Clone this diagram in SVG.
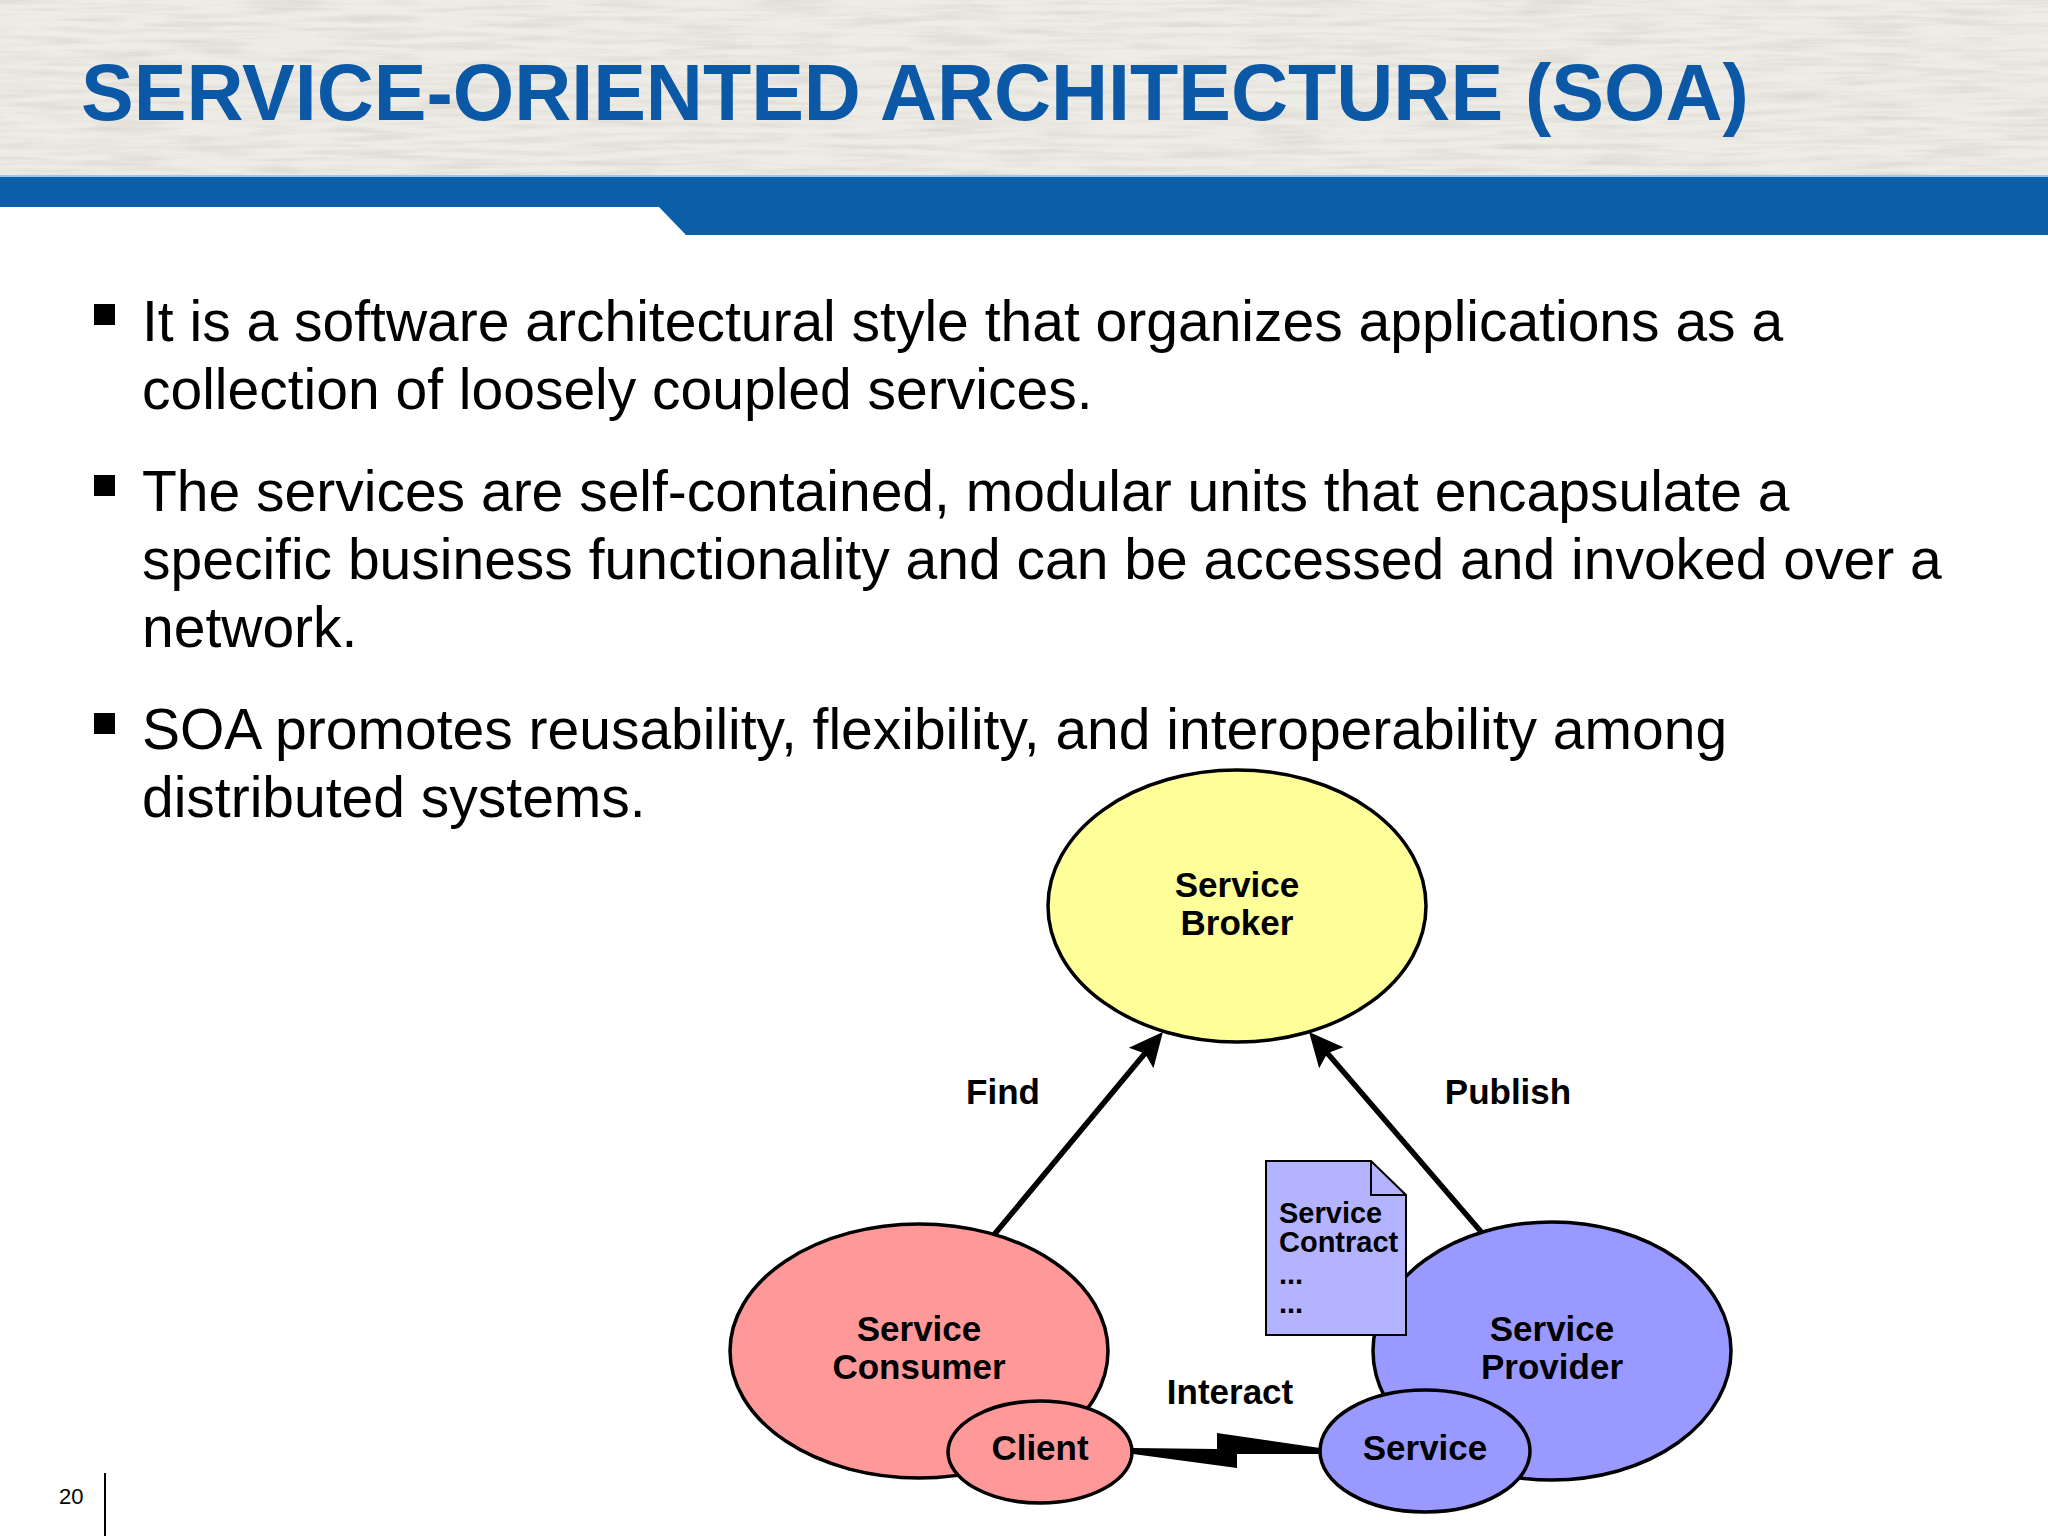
<svg xmlns="http://www.w3.org/2000/svg" width="2048" height="1536" viewBox="0 0 2048 1536">
<defs>
<style>
.title{font-family:"Liberation Sans",Arial,sans-serif;font-weight:bold;font-size:79px;fill:#0b59a6}
.body{font-family:"Liberation Sans",Arial,sans-serif;font-size:57px;fill:#000}
.lbl{font-family:"Liberation Sans",Arial,sans-serif;font-weight:bold;font-size:35px;fill:#000;text-anchor:middle}
.doc{font-family:"Liberation Sans",Arial,sans-serif;font-weight:bold;font-size:29px;fill:#000}
.node{stroke:#000;stroke-width:3.5}
.conn{stroke:#000;stroke-width:5.5;fill:none}
.pg{font-family:"Liberation Sans",Arial,sans-serif;font-size:22px;fill:#000}
</style>
<marker id="arr" markerUnits="userSpaceOnUse" markerWidth="50" markerHeight="44" viewBox="-32 -22 50 44" refX="0" refY="0" orient="auto">
<path d="M10,0 L-24,-16 L-18,0 L-24,16 z" fill="#000"/>
</marker>
<filter id="paper" x="0" y="0" width="100%" height="100%">
<feTurbulence type="fractalNoise" baseFrequency="0.012 0.18" numOctaves="3" seed="4" result="n"/>
<feColorMatrix in="n" type="matrix" values="0 0 0 0 0.55 0 0 0 0 0.53 0 0 0 0 0.47 1.4 0 0 0 -0.55"/>
<feComposite in2="SourceGraphic" operator="in"/>
</filter>
</defs>
<rect width="2048" height="1536" fill="#fff"/>
<g id="header">
<rect x="0" y="0" width="2048" height="177" fill="#eeece6"/>
<rect x="0" y="0" width="2048" height="177" fill="#000" filter="url(#paper)" opacity="0.6"/>
<polygon points="0,176 2048,176 2048,235 686,235 659,207 0,207" fill="#0b5fa8"/>
<line x1="0" y1="176" x2="2048" y2="176" stroke="#9cc6ea" stroke-width="2"/>
<text class="title" x="81" y="120">SERVICE-ORIENTED ARCHITECTURE (SOA)</text>
</g>
<g id="bullets">
<rect x="94" y="304" width="21" height="21" fill="#000"/>
<text class="body" x="142" y="341">It is a software architectural style that organizes applications as a</text>
<text class="body" x="142" y="409">collection of loosely coupled services.</text>
<rect x="94" y="475" width="21" height="21" fill="#000"/>
<text class="body" x="142" y="511">The services are self-contained, modular units that encapsulate a</text>
<text class="body" x="142" y="579">specific business functionality and can be accessed and invoked over a</text>
<text class="body" x="142" y="647">network.</text>
<rect x="94" y="713" width="21" height="21" fill="#000"/>
<text class="body" x="142" y="749">SOA promotes reusability, flexibility, and interoperability among</text>
<text class="body" x="142" y="817">distributed systems.</text>
</g>
<g id="connectors">
<line class="conn" x1="993" y1="1236" x2="1156.5" y2="1039.6" marker-end="url(#arr)"/>
<line class="conn" x1="1483" y1="1234" x2="1315.6" y2="1039.5" marker-end="url(#arr)"/>
<text class="lbl" x="1003" y="1104">Find</text>
<text class="lbl" x="1508" y="1104">Publish</text>
<polygon id="interact-bolt" points="1133,1448 1217,1449 1217,1433 1320,1448 1320,1454 1237,1454 1237,1468 1133,1454" fill="#000"/>
<text class="lbl" x="1230" y="1404">Interact</text>
</g>
<g id="broker">
<ellipse class="node" cx="1237" cy="906" rx="189" ry="136" fill="#ffff99"/>
<text class="lbl" x="1237" y="897">Service</text>
<text class="lbl" x="1237" y="935">Broker</text>
</g>
<g id="consumer">
<ellipse class="node" cx="919" cy="1351" rx="189" ry="127" fill="#ff9999"/>
<text class="lbl" x="919" y="1341">Service</text>
<text class="lbl" x="919" y="1379">Consumer</text>
</g>
<g id="client">
<ellipse class="node" cx="1040" cy="1452" rx="92" ry="51" fill="#ff9999"/>
<text class="lbl" x="1040" y="1460">Client</text>
</g>
<g id="provider">
<ellipse class="node" cx="1552" cy="1351" rx="179" ry="129" fill="#9999ff"/>
<text class="lbl" x="1552" y="1341">Service</text>
<text class="lbl" x="1552" y="1379">Provider</text>
</g>
<g id="service">
<ellipse class="node" cx="1425" cy="1451" rx="105" ry="61" fill="#9999ff"/>
<text class="lbl" x="1425" y="1460">Service</text>
</g>
<g id="contract">
<polygon points="1266,1161 1371,1161 1406,1195 1406,1335 1266,1335" fill="#b3b3ff" stroke="#000" stroke-width="2"/>
<polyline points="1371,1161 1371,1195 1406,1195" fill="none" stroke="#000" stroke-width="2"/>
<text class="doc" x="1279" y="1223">Service</text>
<text class="doc" x="1279" y="1252">Contract</text>
<text class="doc" x="1279" y="1284">...</text>
<text class="doc" x="1279" y="1313">...</text>
</g>
<g id="footer">
<text class="pg" x="59" y="1504">20</text>
<line x1="105" y1="1473" x2="105" y2="1536" stroke="#000" stroke-width="2"/>
</g>
</svg>
